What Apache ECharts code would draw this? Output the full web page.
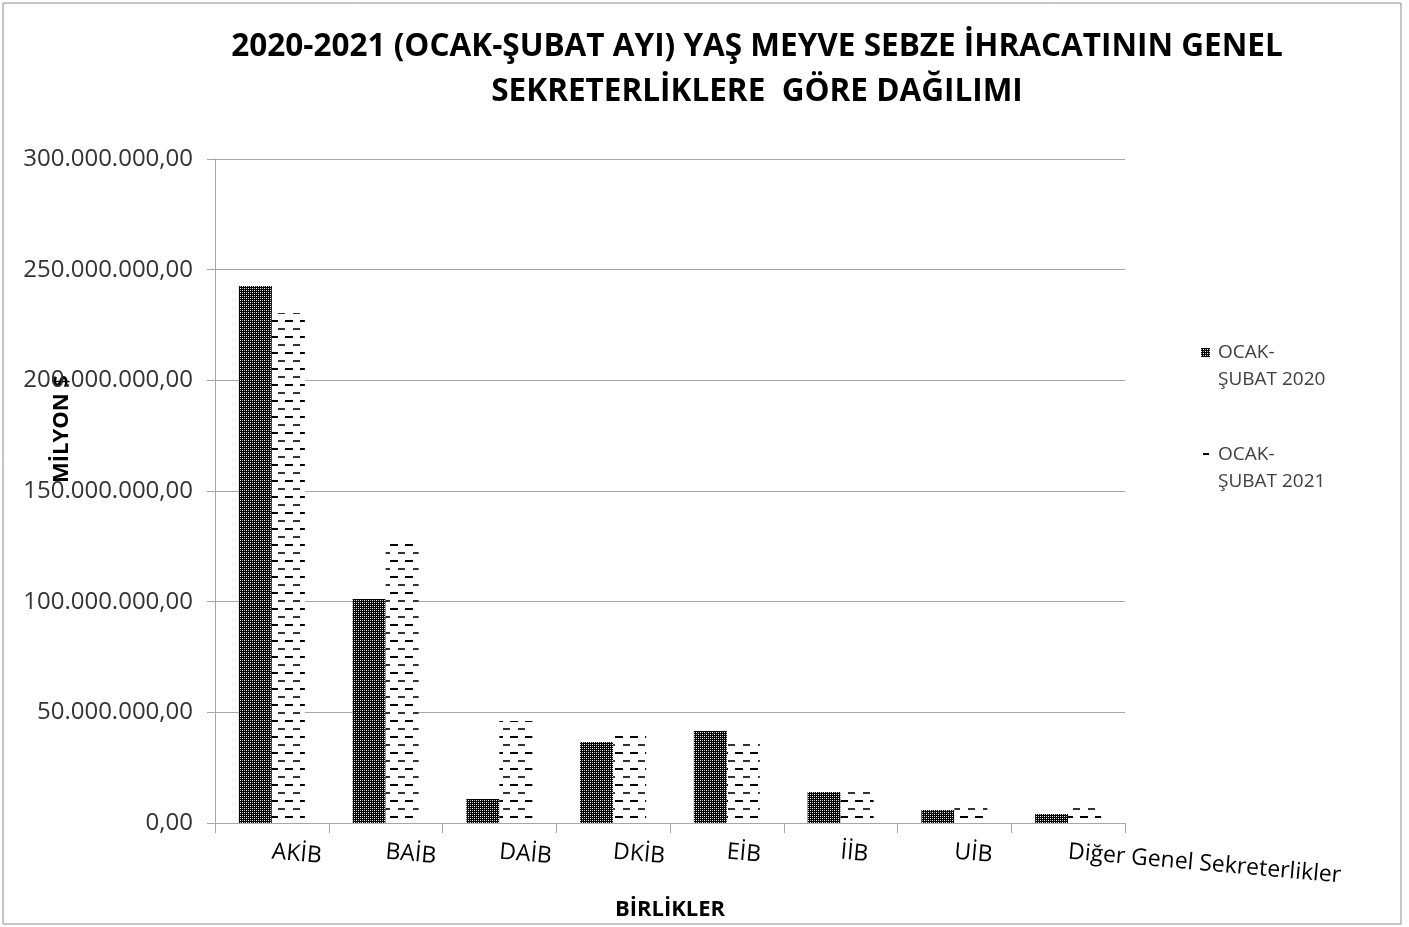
<!DOCTYPE html>
<html><head><meta charset="utf-8">
<script src="https://cdn.jsdelivr.net/npm/echarts@6/dist/echarts.min.js"></script>
<style>html,body{margin:0;padding:0;background:#fff}#c{width:1409px;height:927px}</style>
</head><body><div id="c"></div>
<script>
const categories = ['AKİB','BAİB','DAİB','DKİB','EİB','İİB','UİB','Diğer Genel Sekreterlikler'];
const values2020 = [242600000,101200000,10800000,36600000,41600000,14000000,5900000,4100000];
const values2021 = [230400000,128800000,46100000,41600000,38400000,16700000,9500000,9500000];
const seriesNames = ['OCAK-ŞUBAT 2020','OCAK-ŞUBAT 2021'];
const yTicks = {min:0,max:300000000,interval:50000000};

function pattern2020(){
  const c=document.createElement('canvas');c.width=4;c.height=4;const g=c.getContext('2d');
  g.fillStyle='#000';g.fillRect(0,0,4,4);
  g.fillStyle='#fff';g.fillRect(0,0,1,1);g.fillRect(2,2,1,1);
  g.fillStyle='#aaa';g.fillRect(2,0,1,1);g.fillRect(0,2,1,1);
  return c;
}
function pattern2021(){
  const c=document.createElement('canvas');c.width=15;c.height=16;const g=c.getContext('2d');
  g.fillStyle='#fff';g.fillRect(0,0,15,16);
  g.fillStyle='#000';
  g.fillRect(0,0,8,2);
  g.fillStyle='#333';
  g.fillRect(8,8,7,2);
  return c;
}
const p20={image:pattern2020(),repeat:'repeat'};
const p21={image:pattern2021(),repeat:'repeat'};
const fmt=v=>String(v).replace(/\B(?=(\d{3})+(?!\d))/g,'.')+',00';
const FONT='Open Sans';
const chart=echarts.init(document.getElementById('c'),null,{renderer:'canvas'});
chart.setOption({
  animation:false,
  backgroundColor:'#fff',
  textStyle:{fontFamily:FONT},
  title:{text:'2020-2021 (OCAK-ŞUBAT AYI) YAŞ MEYVE SEBZE İHRACATININ GENEL\nSEKRETERLİKLERE  GÖRE DAĞILIMI',left:752,top:20,textAlign:'center',
    textStyle:{fontFamily:FONT,fontWeight:'bold',fontSize:31.5,lineHeight:45,color:'#000'}},
  grid:{left:215,right:284,top:159,bottom:104,containLabel:false},
  legend:{orient:'vertical',left:1196,top:334,itemGap:48,itemWidth:9,itemHeight:54,
    formatter:n=>n.replace('-','-\n'),
    textStyle:{fontFamily:FONT,fontSize:19,lineHeight:27,color:'#404040',padding:[0,0,0,3]},
    data:[{name:seriesNames[0],icon:'path://M0,9h9v9h-9z M0,0h0 M0,54h0'},
          {name:seriesNames[1],icon:'path://M1,12h6v2h-6z M0,0h0 M0,54h0',itemStyle:{color:'#000'}}]},
  xAxis:{type:'category',data:categories,
    name:'BİRLİKLER',nameLocation:'middle',nameGap:76,
    nameTextStyle:{fontFamily:FONT,fontWeight:'bold',fontSize:22,color:'#000'},
    axisLine:{lineStyle:{color:'#a6a6a6',width:1}},
    axisTick:{show:true,length:10,lineStyle:{color:'#a6a6a6'}},
    axisLabel:{interval:0,rotate:-5,margin:29,fontSize:23,color:'#000',fontFamily:FONT}},
  yAxis:{type:'value',min:yTicks.min,max:yTicks.max,interval:yTicks.interval,
    axisLine:{show:true,lineStyle:{color:'#a6a6a6'}},
    axisTick:{show:true,length:8,lineStyle:{color:'#a6a6a6'}},
    splitLine:{lineStyle:{color:'#a6a6a6'}},
    axisLabel:{formatter:fmt,fontSize:24,color:'#333',margin:22,fontFamily:FONT}},
  graphic:[
    {type:'rect',shape:{x:3,y:3,width:1398,height:921},style:{fill:'none',stroke:'#8c8c8c',lineWidth:1},silent:true},
    {type:'text',x:62,y:429,rotation:Math.PI/2,style:{text:'MİLYON $',fontFamily:FONT,fontWeight:'bold',fontSize:22,fill:'#000',align:'center',verticalAlign:'middle'}}
  ],
  series:[
    {name:seriesNames[0],type:'bar',data:values2020,barWidth:33,barGap:'0%',itemStyle:{color:p20}},
    {name:seriesNames[1],type:'bar',data:values2021,barWidth:33,barGap:'0%',itemStyle:{color:p21}}
  ]
});
</script></body></html>
